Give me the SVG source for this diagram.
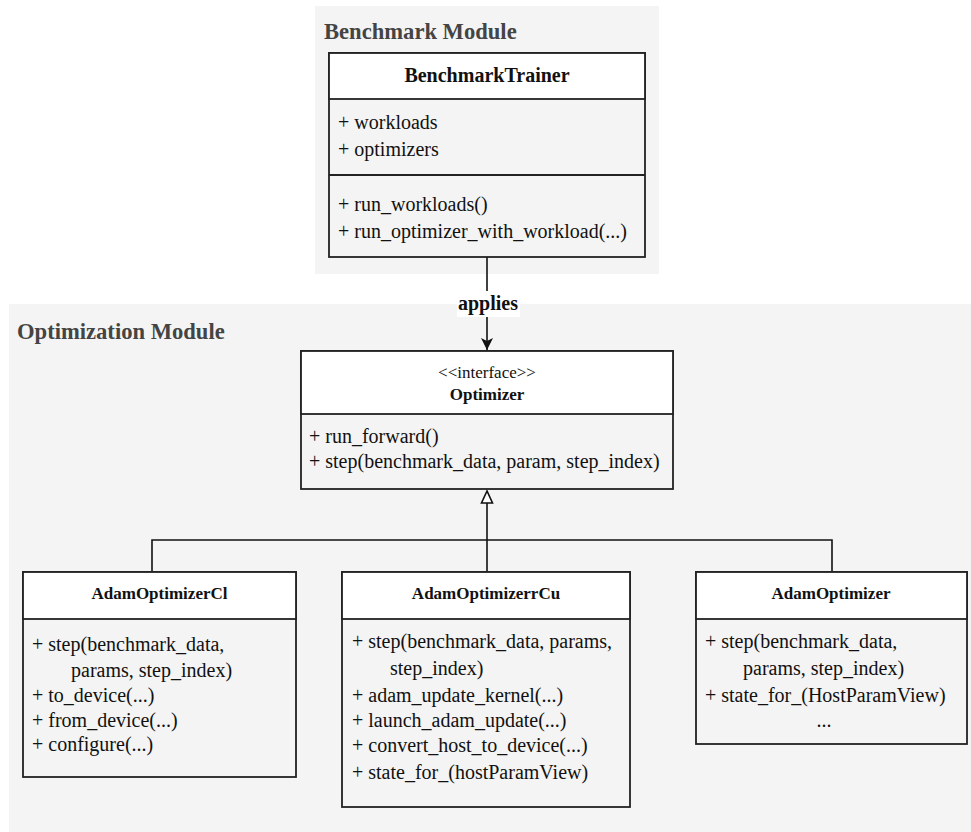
<svg xmlns="http://www.w3.org/2000/svg" width="971" height="832" viewBox="0 0 971 832">
<defs>
<style>
.cont{fill:#f4f4f4;stroke:none}
.title{font-family:"Liberation Serif",serif;font-weight:bold;font-size:22.6px;fill:#444}
.box{fill:#f4f4f4;stroke:#222;stroke-width:1.8}
.hdr{fill:#ffffff;stroke:#222;stroke-width:1.8}
.sep{stroke:#222;stroke-width:1.8}
.cn{font-family:"Liberation Serif",serif;font-weight:bold;font-size:17px;fill:#111;text-anchor:middle}
.cnb{font-family:"Liberation Serif",serif;font-weight:bold;font-size:20px;fill:#111;text-anchor:middle}
.st{font-family:"Liberation Serif",serif;font-size:17px;fill:#111;text-anchor:middle}
.m{font-family:"Liberation Serif",serif;font-size:20px;fill:#111}
.line{fill:none;stroke:#111;stroke-width:1.6}
.lbl{font-family:"Liberation Serif",serif;font-weight:bold;font-size:20px;fill:#111;text-anchor:middle}
</style>
<marker id="arrow" viewBox="0 0 12 12" refX="12" refY="6" markerWidth="12" markerHeight="12" markerUnits="userSpaceOnUse" orient="auto">
<path d="M0,0 L12,6 L0,12 L3,6 z" fill="#111"/>
</marker>
</defs>
<g id="benchmark-module">
<rect class="cont" x="315" y="6" width="344" height="268"/>
<text class="title" x="324" y="39">Benchmark Module</text>
</g>
<g id="optimization-module">
<rect class="cont" x="9" y="304" width="962" height="528"/>
<text class="title" x="17" y="339">Optimization Module</text>
</g>
<g id="connectors">
<line class="line" x1="487" y1="257" x2="487" y2="350" marker-end="url(#arrow)"/>
<rect x="457" y="291" width="63" height="26" fill="#ffffff"/>
<text class="lbl" x="488" y="310">applies</text>
<polyline class="line" points="487,503 487,540"/>
<polyline class="line" points="152,572 152,540 832,540 832,572"/>
<line class="line" x1="487" y1="540" x2="487" y2="572"/>
<polygon points="487,491 481.5,503 492.5,503" fill="#ffffff" stroke="#111" stroke-width="1.6"/>
</g>
<g id="BenchmarkTrainer">
<rect class="box" x="329" y="53" width="316" height="204"/>
<rect class="hdr" x="329" y="53" width="316" height="46"/>
<line class="sep" x1="329" y1="175" x2="645" y2="175"/>
<text class="cnb" x="487" y="82">BenchmarkTrainer</text>
<text class="m" x="338" y="129">+ workloads</text>
<text class="m" x="338" y="156">+ optimizers</text>
<text class="m" x="338" y="211">+ run_workloads()</text>
<text class="m" x="338" y="238">+ run_optimizer_with_workload(...)</text>
</g>
<g id="Optimizer">
<rect class="box" x="301" y="351" width="372" height="138"/>
<rect class="hdr" x="301" y="351" width="372" height="63"/>
<text class="st" x="487" y="378">&lt;&lt;interface&gt;&gt;</text>
<text class="cn" x="487" y="400">Optimizer</text>
<text class="m" x="309" y="443">+ run_forward()</text>
<text class="m" x="309" y="468">+ step(benchmark_data, param, step_index)</text>
</g>
<g id="AdamOptimizerCl">
<rect class="box" x="23" y="572" width="273" height="205"/>
<rect class="hdr" x="23" y="572" width="273" height="47"/>
<text class="cn" x="159.5" y="599">AdamOptimizerCl</text>
<text class="m" x="32" y="651">+ step(benchmark_data,</text>
<text class="m" x="71" y="677">params, step_index)</text>
<text class="m" x="32" y="702">+ to_device(...)</text>
<text class="m" x="32" y="727">+ from_device(...)</text>
<text class="m" x="32" y="751">+ configure(...)</text>
</g>
<g id="AdamOptimizerrCu">
<rect class="box" x="342" y="572" width="288" height="235"/>
<rect class="hdr" x="342" y="572" width="288" height="47"/>
<text class="cn" x="486" y="599">AdamOptimizerrCu</text>
<text class="m" x="352" y="648">+ step(benchmark_data, params,</text>
<text class="m" x="390" y="675">step_index)</text>
<text class="m" x="352" y="702">+ adam_update_kernel(...)</text>
<text class="m" x="352" y="727">+ launch_adam_update(...)</text>
<text class="m" x="352" y="752">+ convert_host_to_device(...)</text>
<text class="m" x="352" y="779">+ state_for_(hostParamView)</text>
</g>
<g id="AdamOptimizer">
<rect class="box" x="696" y="572" width="271" height="172"/>
<rect class="hdr" x="696" y="572" width="271" height="47"/>
<text class="cn" x="831" y="599">AdamOptimizer</text>
<text class="m" x="705" y="648">+ step(benchmark_data,</text>
<text class="m" x="743" y="675">params, step_index)</text>
<text class="m" x="705" y="702">+ state_for_(HostParamView)</text>
<text class="m" x="824" y="727" text-anchor="middle">...</text>
</g>
</svg>
